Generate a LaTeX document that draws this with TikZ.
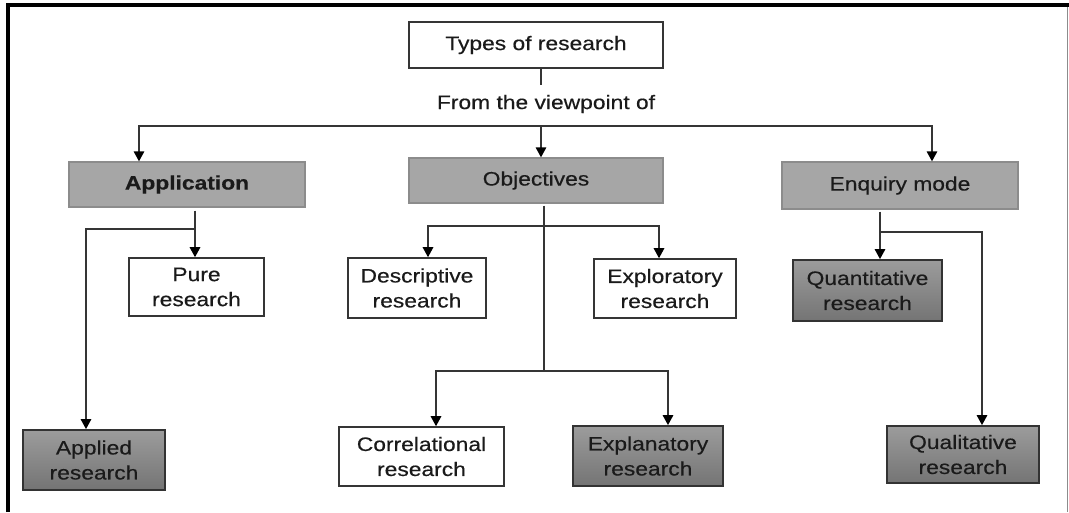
\documentclass[tikz,border=0pt]{standalone}
\usepackage{fontspec}
\setmainfont{Liberation Sans}[FakeStretch=1.17,FakeBold=0.4]
\usetikzlibrary{arrows.meta}

\definecolor{inktext}{HTML}{1A1A1A}
\definecolor{linegray}{HTML}{353535}
\definecolor{midfill}{HTML}{A6A6A6}
\definecolor{midedge}{HTML}{8C8C8C}
\definecolor{darktop}{HTML}{9C9C9C}
\definecolor{darkbot}{HTML}{747474}
\definecolor{darkedge}{HTML}{333333}

\tikzset{
  box/.style={rectangle, align=center, inner sep=0pt, text=inktext,
    font=\fontsize{19.5}{25}\selectfont},
  plainbox/.style={box, draw=linegray, line width=1.6pt, fill=white},
  catbox/.style={box, draw=midedge, line width=1.3pt, fill=midfill},
  darkbox/.style={box, draw=darkedge, line width=1.8pt,
    top color=darktop, bottom color=darkbot},
  conn/.style={draw=linegray, line width=1.4pt},
  arr/.style={conn, -{Triangle[width=10.5pt,length=10pt,color=black,fill=black]}},
  frametop/.style={line width=4.5pt, black},
  frameright/.style={line width=1.2pt, black!45}
}

\begin{document}
\begin{tikzpicture}[x=1pt,y=-1pt]
  \useasboundingbox (0,0) rectangle (1069,512);

  % outer frame: heavy top and left edges, thin right edge
  \draw[frametop] (8,512) -- (8,5) -- (1069,5);
  \draw[frameright] (1067.5,7) -- (1067.5,512);

  % root and caption
  \node[plainbox, minimum width=254pt, minimum height=46pt] (types) at (536,45) {Types of research};
  \node[box, inner sep=0pt] (view) at (546,104) {From the viewpoint of};

  % second level
  \node[catbox, minimum width=236pt, minimum height=45pt, font=\fontsize{19.5}{25}\selectfont\bfseries] (app) at (187,184.5) {Application};
  \node[catbox, minimum width=254pt, minimum height=45pt] (obj) at (536,180.5) {Objectives};
  \node[catbox, minimum width=236pt, minimum height=47pt] (enq) at (900,185.5) {Enquiry mode};

  % leaves
  \node[plainbox, minimum width=135pt, minimum height=58pt] (pure) at (196.5,287) {Pure\\research};
  \node[darkbox, minimum width=142pt, minimum height=60pt] (applied) at (94,460) {Applied\\research};
  \node[plainbox, minimum width=138pt, minimum height=60pt] (desc) at (417,288) {Descriptive\\research};
  \node[plainbox, minimum width=142pt, minimum height=59pt] (explor) at (665,288.5) {Exploratory\\research};
  \node[plainbox, minimum width=165pt, minimum height=59pt] (corr) at (421.5,456.5) {Correlational\\research};
  \node[darkbox, minimum width=150pt, minimum height=60pt] (explan) at (648,456) {Explanatory\\research};
  \node[darkbox, minimum width=149pt, minimum height=61pt] (quant) at (867.5,290.5) {Quantitative\\research};
  \node[darkbox, minimum width=152pt, minimum height=57pt] (qual) at (963,454.5) {Qualitative\\research};

  % routing points
  \coordinate (stem) at (541,85);
  \coordinate (bar) at (541,126);
  \coordinate (appin) at (139,0);
  \coordinate (enqin) at (932,0);
  \coordinate (appout) at (195,229);
  \coordinate (applin) at (86,0);
  \coordinate (objout) at (544,226);
  \coordinate (objlow) at (544,371);
  \coordinate (descin) at (428,0);
  \coordinate (explorin) at (659,0);
  \coordinate (corrin) at (436,0);
  \coordinate (explanin) at (668,0);
  \coordinate (enqout) at (880,232);
  \coordinate (qualin) at (982,0);

  % root to categories
  \draw[conn] (types.south -| stem) -- (stem);
  \draw[arr] (bar) -| (app.north -| appin);
  \draw[arr] (bar) -- (obj.north -| bar);
  \draw[arr] (bar) -| (enq.north -| enqin);

  % application branch
  \draw[arr] (app.south -| appout) ++(0,3) -- (pure.north -| appout);
  \draw[arr] (appout) -| (applied.north -| applin);

  % objectives branch
  \draw[conn] (obj.south -| objout) ++(0,2) -- (objlow);
  \draw[arr] (objout) -| (desc.north -| descin);
  \draw[arr] (objout) -| (explor.north -| explorin);
  \draw[arr] (objlow) -| (corr.north -| corrin);
  \draw[arr] (objlow) -| (explan.north -| explanin);

  % enquiry branch
  \draw[arr] (enq.south -| enqout) ++(0,2) -- (quant.north -| enqout);
  \draw[arr] (enqout) -| (qual.north -| qualin);
\end{tikzpicture}
\end{document}
